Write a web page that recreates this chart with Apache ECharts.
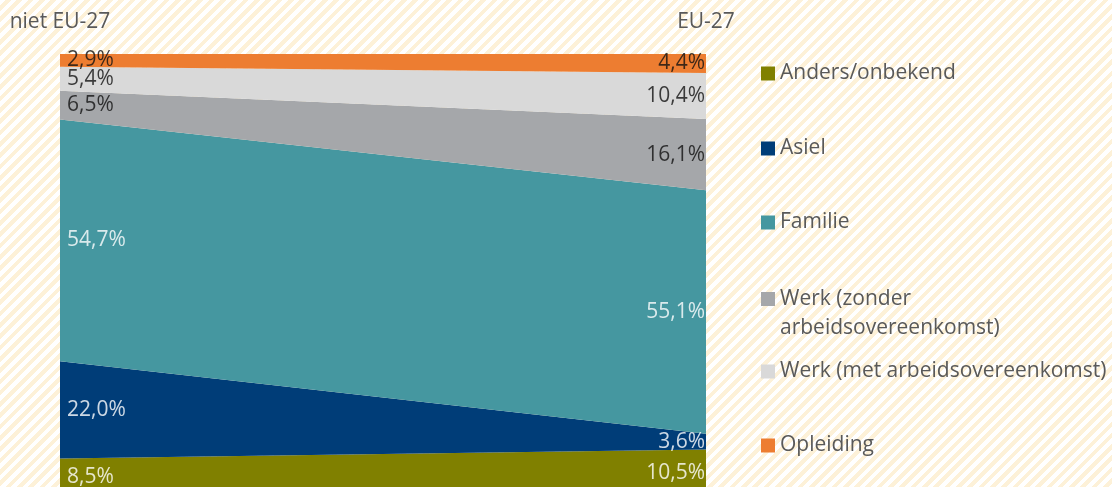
<!DOCTYPE html>
<html>
<head>
<meta charset="utf-8">
<script src="https://cdn.jsdelivr.net/npm/echarts@6/dist/echarts.min.js"></script>
<style>
  html, body { margin: 0; padding: 0; overflow: hidden; }
  #chart {
    width: 1112px;
    height: 500px;
    background: repeating-linear-gradient(135deg, #ffffff 0 4px, #fdf1d8 4px 8px);
  }
</style>
</head>
<body>
<div id="chart"></div>
<script>
const categories = ['niet EU-27', 'EU-27']

// stacked from bottom to top
const seriesNames = [
  'Anders/onbekend',
  'Asiel',
  'Familie',
  'Werk (zonder arbeidsovereenkomst)',
  'Werk (met arbeidsovereenkomst)',
  'Opleiding'
]
const andersValues = [8.5, 10.5]
const asielValues = [22.0, 3.6]
const familieValues = [54.7, 55.1]
const werkZonderValues = [6.5, 16.1]
const werkMetValues = [5.4, 10.4]
const opleidingValues = [2.9, 4.4]

const seriesValues = [andersValues, asielValues, familieValues, werkZonderValues, werkMetValues, opleidingValues]
const colors = ['#808000', '#003d78', '#4597a0', '#a5a7aa', '#d9d9d9', '#ed7d31']
const labelColors = ['#ffffff', '#ffffff', '#ffffff', '#111111', '#111111', '#111111']

// the chart is a bit taller than the window, the bottom of the plot is cut off
const chart = echarts.init(document.getElementById('chart'))

const fmt = v => v.toFixed(1).replace('.', ',') + '%'

const areaSeries = seriesNames.map((name, i) => ({
  name,
  type: 'line',
  stack: 'total',
  symbol: 'none',
  lineStyle: { width: 0 },
  areaStyle: { color: colors[i], opacity: 1 },
  itemStyle: { color: colors[i] },
  data: seriesValues[i]
}))

// label series: a point in the middle of each band
const labelSeries = seriesNames.map((name, i) => {
  const data = categories.map((c, j) => {
    let below = 0
    for (let k = 0; k < i; k++) below += seriesValues[k][j]
    const mid = below + seriesValues[i][j] / 2
    return {
      value: [c, mid],
      label: {
        position: j === 0 ? 'right' : 'left',
        distance: j === 0 ? 7 : 1,
        formatter: () => fmt(seriesValues[i][j])
      }
    }
  })
  return {
    type: 'scatter',
    symbolSize: 0,
    silent: true,
    z: 5,
    label: {
      show: true,
      color: labelColors[i],
      fontSize: 21,
      fontFamily: 'Open Sans'
    },
    data
  }
})

// icon centres of the legend entries
const legendCenters = [72, 147, 221, 296, 370, 444]
const legends = seriesNames.map((name, i) => {
  const twoLine = name.indexOf('zonder') >= 0
  return {
    data: [name],
    left: 761,
    top: legendCenters[i] - (twoLine ? 40.5 : 13),
    padding: 0,
    orient: 'vertical',
    itemWidth: 14,
    itemHeight: 14,
    icon: 'rect',
    selectedMode: false,
    formatter: n => twoLine ? '\nWerk (zonder\narbeidsovereenkomst)' : n,
    textStyle: {
      color: '#595959',
      fontSize: 21,
      fontFamily: 'Open Sans',
      lineHeight: 29
    }
  }
})

const option = {
  animation: false,
  color: colors,
  legend: legends,
  grid: {
    left: 60,
    width: 646,
    top: 54,
    bottom: 4
  },
  xAxis: {
    type: 'category',
    position: 'top',
    boundaryGap: false,
    data: categories,
    axisLine: { show: true, lineStyle: { color: '#d9d9d9', width: 1 } },
    axisTick: { show: true, length: 6, lineStyle: { color: '#d9d9d9' } },
    axisLabel: {
      color: '#595959',
      fontSize: 21,
      fontFamily: 'Open Sans',
      margin: 21
    },
    splitLine: { show: false }
  },
  yAxis: {
    type: 'value',
    min: 0,
    max: 100,
    axisLine: { show: true, lineStyle: { color: '#e6e6e6' } },
    axisLabel: { show: false },
    axisTick: { show: false },
    splitLine: { show: false }
  },
  series: [...areaSeries, ...labelSeries]
}

chart.setOption(option)
</script>
</body>
</html>
